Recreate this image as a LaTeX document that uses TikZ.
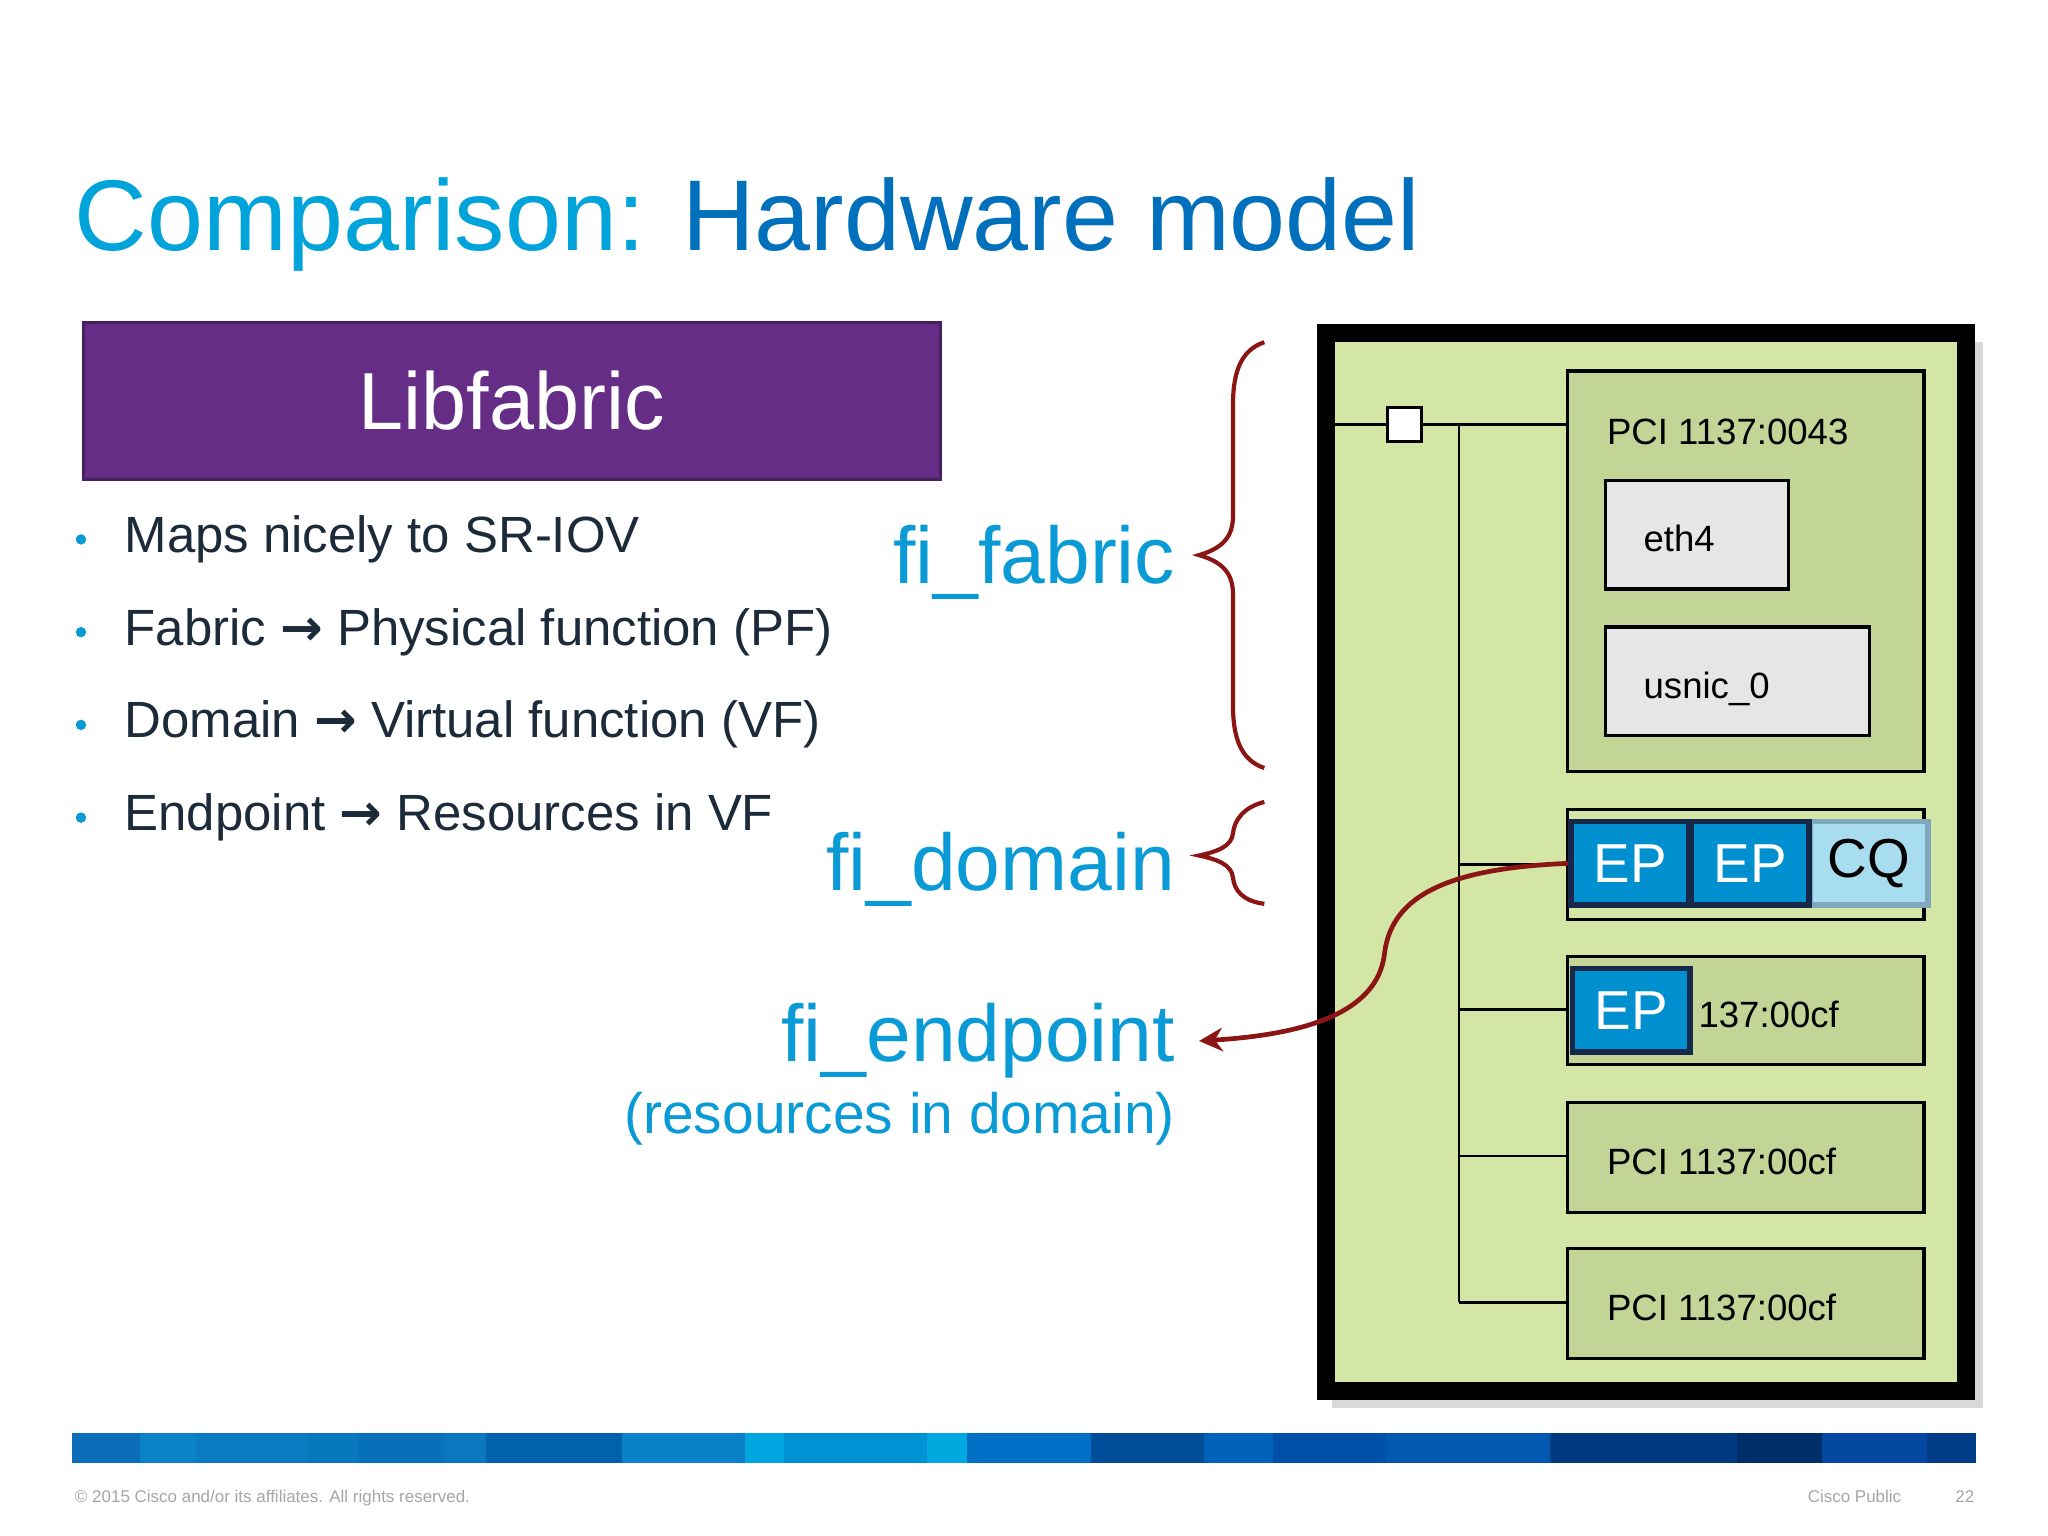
\documentclass[tikz,border=0pt]{standalone}
\usepackage{fontspec}
\setmainfont{Liberation Sans}
\newfontfamily\arrfont{DejaVu Sans}
\usetikzlibrary{arrows.meta}
\definecolor{ttlA}{HTML}{00A3DA}
\definecolor{ttlB}{HTML}{0070BC}
\definecolor{purp}{HTML}{662D87}
\definecolor{navy}{HTML}{1D2A3A}
\definecolor{cy}{HTML}{0A9BD6}
\definecolor{brc}{HTML}{8B1515}
\definecolor{lg}{HTML}{D4E6A5}
\definecolor{mg}{HTML}{C2D496}
\definecolor{gbox}{HTML}{E6E6E6}
\definecolor{epf}{HTML}{0090D0}
\definecolor{epb}{HTML}{16294A}
\definecolor{cqf}{HTML}{A8DCEF}
\definecolor{cqb}{HTML}{7FA8BE}
\newcommand{\myarr}{{\arrfont\bfseries →}}
\begin{document}
\begin{tikzpicture}[x=0.5pt,y=-0.5pt,
  bul/.style={anchor=base west,text=navy,font=\fontsize{19.5}{24}\selectfont,inner sep=0},
  dot/.style={circle,fill=cy,inner sep=0,minimum size=4pt},
  lab/.style={anchor=base east,text=cy,font=\fontsize{30.8}{36}\selectfont,inner sep=0},
  pci/.style={draw=black,line width=1.2pt,fill=mg},
  gb/.style={draw=black,line width=1.2pt,fill=gbox},
  txt/.style={anchor=base west,inner sep=0,font=\fontsize{14}{17}\selectfont},
  ep/.style={draw=epb,line width=2.2pt,fill=epf,text=white,font=\fontsize{21}{25}\selectfont},
  cq/.style={draw=cqb,line width=2.2pt,fill=cqf,text=black,font=\fontsize{21}{25}\selectfont},
  wire/.style={line width=1pt,draw=black},
  brace/.style={draw=brc,line width=1.6pt}]
\useasboundingbox (0,0) rectangle (1568,1176);
\fill[white] (0,0) rectangle (1568,1176);
% title
\node[anchor=base west,inner sep=0,font=\fontsize{38.5}{46}\selectfont] (title) at (57,192)
  {\textcolor{ttlA}{Comparison:} \textcolor{ttlB}{Hardware model}};
% purple box
\node[draw=purp!70!black,line width=1pt,fill=purp,minimum width=328pt,minimum height=60pt,text=white,font=\fontsize{31}{36}\selectfont] (lib) at (392,307) {Libfabric};
% bullets
\foreach \y/\t/\n in {423/{Maps nicely to SR-IOV}/b1,494/{Fabric \myarr{} Physical function (PF)}/b2,565/{Domain \myarr{} Virtual function (VF)}/b3,636/{Endpoint \myarr{} Resources in VF}/b4}{
  \node[dot] (d\n) at (62,{\y-10}) {};
  \node[bul] (\n) at (95,\y) {\t};
}
% labels
\node[lab] (ff) at (900,447) {fi\_fabric};
\node[lab] (fd) at (900,682) {fi\_domain};
\node[lab] (fe) at (900,813) {fi\_endpoint};
\node[anchor=base east,text=cy,inner sep=0,font=\fontsize{21.8}{26}\selectfont] (res) at (900,868) {(resources in domain)};
% braces
\draw[brace] (968,262) .. controls (950,268) and (944,285) .. (944,310) -- (944,395)
  .. controls (944,412) and (935,420) .. (918,425) .. controls (935,430) and (944,438) .. (944,455)
  -- (944,540) .. controls (944,565) and (950,582) .. (968,588);
\draw[brace] (968,614) .. controls (952,618) and (945,628) .. (944,638)
  .. controls (943,648) and (932,652) .. (918,655) .. controls (932,658) and (943,662) .. (944,672)
  .. controls (945,682) and (952,690) .. (968,692);
% big box
\fill[gray!30] (1020,262) rectangle (1518,1078);
\node[draw=black,line width=7pt,fill=lg,minimum width=245pt,minimum height=405pt,inner sep=0] (big) at (1260,660) {};
% inner boxes
\node[pci,minimum width=136.5pt,minimum height=153.5pt,inner sep=0] (p1) at (1336.5,437.5) {};
\node[txt] (p1t) at (1230,340) {PCI 1137:0043};
\node[gb,minimum width=70pt,minimum height=41.5pt,inner sep=0] (eth) at (1299,409.5) {};
\node[txt] (etht) at (1258,422) {eth4};
\node[gb,minimum width=101pt,minimum height=41.5pt,inner sep=0] (usn) at (1330,521.5) {};
\node[txt] (usnt) at (1258,535) {usnic\_0};
\node[pci,fill=lg,minimum width=136.5pt,minimum height=42pt,inner sep=0] (p2) at (1336.5,662) {};
\node[pci,minimum width=136.5pt,minimum height=41.5pt,inner sep=0] (p3) at (1336.5,773.5) {};
\node[txt] (p3t) at (1300,787) {137:00cf};
\node[pci,minimum width=136.5pt,minimum height=42pt,inner sep=0] (p4) at (1336.5,886) {};
\node[txt] (p4t) at (1230,899) {PCI 1137:00cf};
\node[pci,minimum width=136.5pt,minimum height=42pt,inner sep=0] (p5) at (1336.5,998) {};
\node[txt] (p5t) at (1230,1011) {PCI 1137:00cf};
% EP/CQ
\node[cq,minimum width=45pt,minimum height=32pt,inner sep=0] (cq) at (1431,661) {\raisebox{-1pt}{CQ}};
\node[ep,minimum width=45pt,minimum height=32pt,inner sep=0] (ep1) at (1248,661) {EP};
\node[ep,minimum width=45pt,minimum height=32pt,inner sep=0] (ep2) at (1340,661) {EP};
\node[ep,minimum width=45pt,minimum height=32pt,inner sep=0] (ep3) at (1249,773.5) {EP};
% wiring
\node[draw=black,line width=1.2pt,fill=white,minimum size=13pt,inner sep=0] (sq) at (1075,325) {};
\coordinate (lw) at (1022,325);
\coordinate (j0) at (1117,325);
\coordinate (j1) at (1117,662);
\coordinate (j2) at (1117,773);
\coordinate (j3) at (1117,885);
\coordinate (j4) at (1117,997);
\draw[wire] (lw) -- (sq.west);
\draw[wire] (sq.east) -- (p1.west|-sq.east);
\draw[wire] (j0) -- (j4);
\draw[wire] (j1) -- (p2.west|-j1);
\draw[wire] (j2) -- (p3.west|-j2);
\draw[wire] (j3) -- (p4.west|-j3);
\draw[wire] (j4) -- (p5.west|-j4);
% red arrow
\draw[brc,line width=1.8pt,-{Stealth[length=9pt,width=9pt]}] (ep1.west) .. controls (1100,665) and (1065,690) .. (1060,730)
  .. controls (1055,775) and (1000,792) .. (918,797);
% bottom bar
\foreach \a/\b/\c in {55/107/0A6FB8,107/150/0A82C6,150/235/0A7BC0,235/275/0878BC,275/340/0670B8,340/372/0A78BE,372/476/0062AA,476/570/0A80C8,570/600/00A4DE,600/710/0092D6,710/740/00A8E0,740/835/0070C6,835/922/004E9A,922/975/0062BA,975/1060/0050A8,1060/1187/0058B0,1187/1330/003A80,1330/1395/002E6A,1395/1475/0048A0,1475/1513/003C88}{
  \definecolor{segc}{HTML}{\c}
  \fill[segc] (\a,1097) rectangle (\b,1120);
}
\node[anchor=base west,inner sep=0,text=gray!70,font=\fontsize{6.5}{8}\selectfont] (copy) at (57,1150) {© 2015 Cisco and/or its affiliates. All rights reserved.};
\node[anchor=base east,inner sep=0,text=gray!70,font=\fontsize{6.5}{8}\selectfont] (pub) at (1456,1150) {Cisco Public};
\node[anchor=base east,inner sep=0,text=gray!70,font=\fontsize{6.5}{8}\selectfont] (pg) at (1512,1150) {22};
\end{tikzpicture}
\end{document}
